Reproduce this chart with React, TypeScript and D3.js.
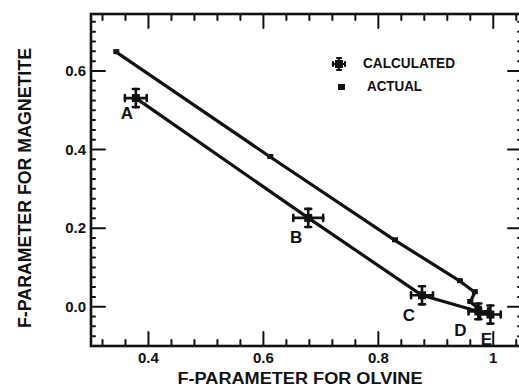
import React, { useEffect, useRef } from "react";
import * as d3 from "d3";

// calculated points (with error bars) and the actual curve
const calcLabels = ["A", "B", "C", "D", "E"];
const calcX = [0.378, 0.678, 0.876, 0.974, 0.995];
const calcY = [0.531, 0.226, 0.029, -0.012, -0.02];
const calcErrX = [0.019, 0.026, 0.019, 0.017, 0.018];
const calcErrY = [0.023, 0.023, 0.023, 0.02, 0.023];

const actualX = [0.344, 0.612, 0.829, 0.942, 0.968, 0.96, 0.975];
const actualY = [0.648, 0.381, 0.169, 0.065, 0.037, 0.012, -0.005];

const xTickLabels = ["0.4", "0.6", "0.8", "1"];
const xTickValues = [0.4, 0.6, 0.8, 1.0];
const yTickLabels = ["0.0", "0.2", "0.4", "0.6"];
const yTickValues = [0.0, 0.2, 0.4, 0.6];

const legendNames = ["CALCULATED", "ACTUAL"];

const App = () => {
  const ref = useRef<SVGSVGElement | null>(null);

  useEffect(() => {
    const svg = d3.select(ref.current);
    svg.selectAll("*").remove();

    const width = 519;
    const height = 389;
    const x = d3.scaleLinear().domain([0.3, 1.05]).range([91, 522]);
    const y = d3.scaleLinear().domain([-0.1, 0.745]).range([346, 14]);
    const ink = "#111";
    const font = "'Liberation Sans', Arial, sans-serif";

    svg.attr("width", width).attr("height", height);

    // frame
    const [x0, x1] = x.range();
    const [y0, y1] = y.range();
    svg
      .append("rect")
      .attr("x", x0)
      .attr("y", y1)
      .attr("width", x1 - x0)
      .attr("height", y0 - y1)
      .attr("fill", "none")
      .attr("stroke", ink)
      .attr("stroke-width", 2.6);

    // ticks, all pointing inward
    const xMinor = d3.range(0.32, 1.045, 0.04);
    const yMinor = d3.range(-0.075, 0.74, 0.025);
    const isMajor = (v, majors) => majors.some((m) => Math.abs(m - v) < 1e-6);

    const tickG = svg
      .append("g")
      .attr("stroke", ink)
      .attr("stroke-width", 2)
      .attr("stroke-linecap", "round");

    xMinor.forEach((v) => {
      const len = isMajor(v, xTickValues) ? 14 : 6;
      tickG
        .append("line")
        .attr("x1", x(v))
        .attr("x2", x(v))
        .attr("y1", y0)
        .attr("y2", y0 - len);
      tickG
        .append("line")
        .attr("x1", x(v))
        .attr("x2", x(v))
        .attr("y1", y1)
        .attr("y2", y1 + len);
    });
    yMinor.forEach((v) => {
      const len = isMajor(v, yTickValues) ? 14 : 4;
      tickG
        .append("line")
        .attr("x1", x0)
        .attr("x2", x0 + len)
        .attr("y1", y(v))
        .attr("y2", y(v));
      tickG
        .append("line")
        .attr("x1", x1)
        .attr("x2", x1 - len)
        .attr("y1", y(v))
        .attr("y2", y(v));
    });

    // tick labels
    svg
      .append("g")
      .attr("font-family", font)
      .attr("font-weight", "bold")
      .attr("font-size", 15)
      .attr("text-anchor", "middle")
      .attr("fill", ink)
      .selectAll("text")
      .data(xTickValues)
      .join("text")
      .attr("x", (d) => x(d))
      .attr("y", 363)
      .text((d, i) => xTickLabels[i]);

    svg
      .append("g")
      .attr("font-family", font)
      .attr("font-weight", "bold")
      .attr("font-size", 15)
      .attr("text-anchor", "end")
      .attr("fill", ink)
      .selectAll("text")
      .data(yTickValues)
      .join("text")
      .attr("x", 86)
      .attr("y", (d) => y(d) + 5)
      .text((d, i) => yTickLabels[i]);

    // axis titles
    svg
      .append("text")
      .attr("x", 300)
      .attr("y", 384)
      .attr("text-anchor", "middle")
      .attr("font-family", font)
      .attr("font-weight", "bold")
      .attr("font-size", 16)
      .attr("textLength", 245)
      .attr("lengthAdjust", "spacingAndGlyphs")
      .attr("fill", ink)
      .text("F-PARAMETER FOR OLVINE");

    svg
      .append("text")
      .attr("transform", "translate(31,188) rotate(-90)")
      .attr("text-anchor", "middle")
      .attr("font-family", font)
      .attr("font-weight", "bold")
      .attr("font-size", 18)
      .attr("textLength", 280)
      .attr("lengthAdjust", "spacingAndGlyphs")
      .attr("fill", ink)
      .text("F-PARAMETER FOR MAGNETITE");

    // lines
    const actual = actualX.map((v, i) => [v, actualY[i]]);
    const calc = calcX.map((v, i) => [v, calcY[i]]);

    const line = d3
      .line()
      .x((d) => x(d[0]))
      .y((d) => y(d[1]));

    svg
      .append("path")
      .attr("d", line(actual))
      .attr("fill", "none")
      .attr("stroke", ink)
      .attr("stroke-width", 3.2)
      .attr("stroke-linejoin", "round");

    svg
      .append("path")
      .attr("d", line(calc))
      .attr("fill", "none")
      .attr("stroke", ink)
      .attr("stroke-width", 3.2)
      .attr("stroke-linejoin", "round");

    // actual markers
    svg
      .append("g")
      .attr("fill", ink)
      .selectAll("rect")
      .data(actual)
      .join("rect")
      .attr("x", (d) => x(d[0]) - 3)
      .attr("y", (d) => y(d[1]) - 3)
      .attr("width", 6)
      .attr("height", 5);

    // calculated markers with error bars
    const drawCross = (g, cx, cy, ex, ey, cap) => {
      g.append("line").attr("x1", cx - ex).attr("x2", cx + ex).attr("y1", cy).attr("y2", cy);
      g.append("line").attr("x1", cx).attr("x2", cx).attr("y1", cy - ey).attr("y2", cy + ey);
      g.append("line").attr("x1", cx - ex).attr("x2", cx - ex).attr("y1", cy - cap).attr("y2", cy + cap);
      g.append("line").attr("x1", cx + ex).attr("x2", cx + ex).attr("y1", cy - cap).attr("y2", cy + cap);
      g.append("line").attr("x1", cx - cap).attr("x2", cx + cap).attr("y1", cy - ey).attr("y2", cy - ey);
      g.append("line").attr("x1", cx - cap).attr("x2", cx + cap).attr("y1", cy + ey).attr("y2", cy + ey);
      g.append("rect")
        .attr("x", cx - 4)
        .attr("y", cy - 4)
        .attr("width", 8)
        .attr("height", 8)
        .attr("fill", ink)
        .attr("stroke", "none");
    };

    const calcG = svg
      .append("g")
      .attr("stroke", ink)
      .attr("stroke-width", 2.6)
      .attr("stroke-linecap", "round");
    calcX.forEach((v, i) => {
      const cx = x(v);
      const cy = y(calcY[i]);
      const ex = x(v + calcErrX[i]) - cx;
      const ey = cy - y(calcY[i] + calcErrY[i]);
      drawCross(calcG, cx, cy, ex, ey, 3);
    });

    // point labels
    const labelOffsets = [
      [-9, 15],
      [-12, 19],
      [-13, 20],
      [-18, 19],
      [-4, 24],
    ];
    svg
      .append("g")
      .attr("font-family", font)
      .attr("font-weight", "bold")
      .attr("font-size", 17)
      .attr("text-anchor", "middle")
      .attr("fill", ink)
      .selectAll("text")
      .data(calcLabels)
      .join("text")
      .attr("x", (d, i) => x(calcX[i]) + labelOffsets[i][0])
      .attr("y", (d, i) => y(calcY[i]) + labelOffsets[i][1] + 6)
      .text((d) => d);

    // legend
    const legend = svg.append("g");
    const lgStroke = legend
      .append("g")
      .attr("stroke", ink)
      .attr("stroke-width", 2.2)
      .attr("stroke-linecap", "round");
    drawCross(lgStroke, 339, 64, 6, 6, 2);
    legend
      .append("rect")
      .attr("x", 338)
      .attr("y", 84)
      .attr("width", 7)
      .attr("height", 6)
      .attr("fill", ink);

    legend
      .append("g")
      .attr("font-family", font)
      .attr("font-weight", "bold")
      .attr("font-size", 15)
      .attr("fill", ink)
      .selectAll("text")
      .data(legendNames)
      .join("text")
      .attr("x", (d, i) => (i ? 367 : 363))
      .attr("y", (d, i) => (i ? 91 : 68))
      .attr("textLength", (d, i) => (i ? 55 : 92))
      .attr("lengthAdjust", "spacingAndGlyphs")
      .text((d) => d);
  }, []);

  return (
    <svg
      ref={ref}
      style={{ position: "absolute", left: 0, top: 0, background: "#fff" }}
    />
  );
};

export default App;
